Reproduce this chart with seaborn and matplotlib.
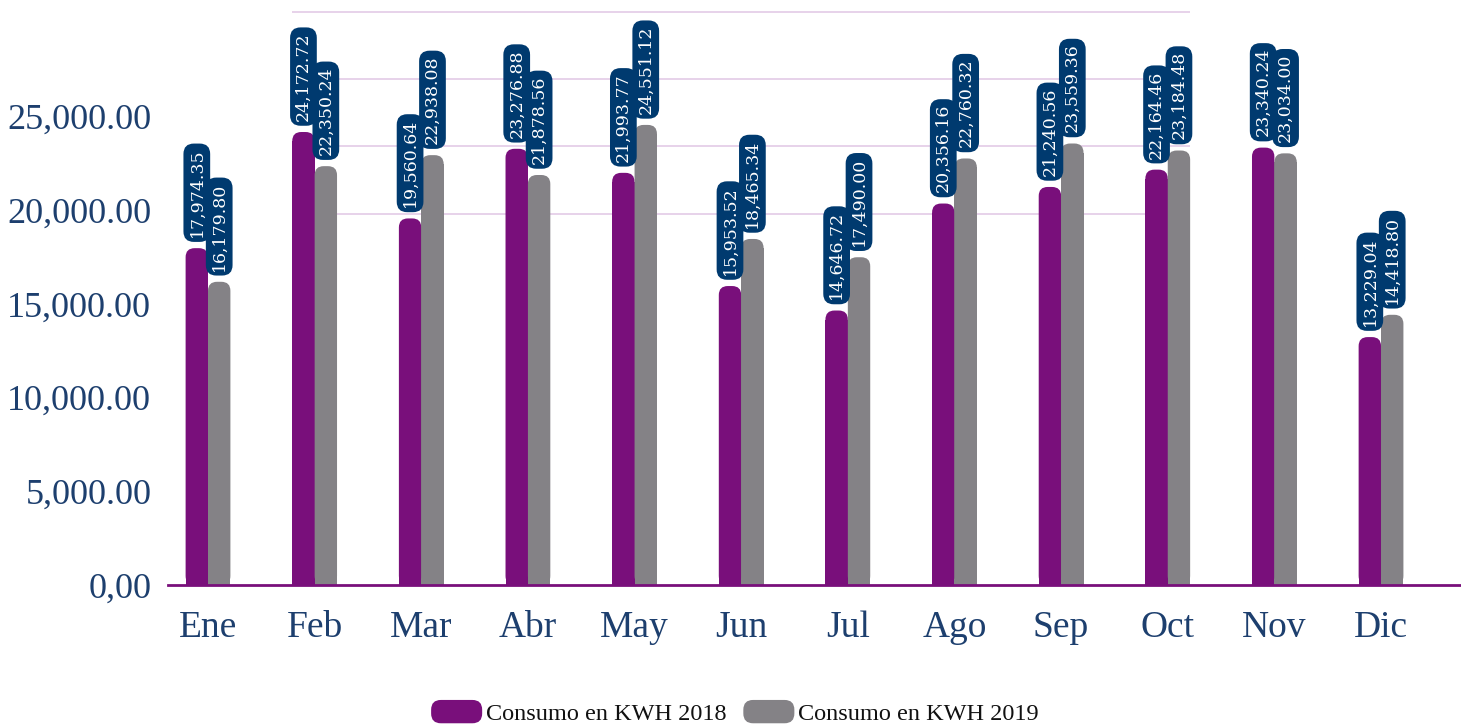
import numpy as np
import pandas as pd
import seaborn as sns
import matplotlib.pyplot as plt
from matplotlib.patches import FancyBboxPatch
from matplotlib.legend_handler import HandlerPatch

# Data
meses = ["Ene", "Feb", "Mar", "Abr", "May", "Jun", "Jul", "Ago", "Sep", "Oct", "Nov", "Dic"]
consumo_2018 = [17974.35, 24172.72, 19560.64, 23276.88, 21993.77, 15953.52,
                14646.72, 20356.16, 21240.56, 22164.46, 23340.24, 13229.04]
consumo_2019 = [16179.80, 22350.24, 22938.08, 21878.56, 24551.12, 18465.34,
                17490.00, 22760.32, 23559.36, 23184.48, 23034.00, 14418.80]
series = ["Consumo en KWH 2018", "Consumo en KWH 2019"]
y_ticks = [0, 5000, 10000, 15000, 20000, 25000]
y_tick_labels = ["0,00", "5,000.00", "10,000.00", "15,000.00", "20,000.00", "25,000.00"]
grid_vals = [19800, 23400, 27000, 30600]

PURPLE = "#790f7b"
GRAY = "#848286"
NAVY = "#003a6f"
TEXT = "#1d3f6e"

df = pd.DataFrame({
    "mes": meses * 2,
    "valor": consumo_2018 + consumo_2019,
    "serie": [series[0]] * 12 + [series[1]] * 12,
})

sns.set_style("white")
plt.rcParams["font.family"] = ["Liberation Serif", "DejaVu Serif"]

fig = plt.figure(figsize=(14.61, 7.25), dpi=100)
ax = fig.add_axes([0.115, 0.1931, 0.885, 0.80])

sns.barplot(data=df, x="mes", y="valor", hue="serie", order=meses,
            palette=[PURPLE, GRAY], width=0.42, gap=0, ax=ax,
            legend=False, saturation=1, edgecolor="none")

ax.set_xlim(-0.375, 11.75)
ax.set_ylim(0, 30950)

# light partial grid lines
ax.hlines(grid_vals, 0.79, 9.21, color="#e3cbe6", lw=1.2, zorder=0)

# px per unit for rounding the bar tops
fig.canvas.draw()
bb = ax.get_window_extent()
x_per_px = (11.75 + 0.375) / bb.width
y_per_px = 30950 / bb.height
radius_px = 9
rx = radius_px * x_per_px
aspect = y_per_px / x_per_px

for p in list(ax.patches):
    x0, w, h = p.get_x(), p.get_width(), p.get_height()
    color = p.get_facecolor()
    p.set_height(h - radius_px * y_per_px)
    rb = FancyBboxPatch((x0, 0), w, h,
                        boxstyle=f"round,pad=0,rounding_size={rx}",
                        mutation_aspect=aspect, fc=color, ec="none", zorder=p.get_zorder())
    ax.add_patch(rb)
    ax.annotate(f"{h:,.2f}", (x0 + w / 2, h), xytext=(0, 8), textcoords="offset points",
                rotation=90, ha="center", va="bottom", fontsize=12.5, color="white",
                family="DejaVu Serif",
                bbox=dict(boxstyle="round,pad=0.28,rounding_size=0.6", fc=NAVY, ec="none"),
                zorder=5)

ax.set_yticks(y_ticks, y_tick_labels)
ax.tick_params(axis="y", labelsize=26, labelcolor=TEXT, length=0, pad=12)
ax.tick_params(axis="x", labelsize=27, labelcolor=TEXT, length=0, pad=18)
ax.set_xlabel("")
ax.set_ylabel("")
for s in ["top", "right", "left"]:
    ax.spines[s].set_visible(False)
ax.spines["bottom"].set_color(PURPLE)
ax.spines["bottom"].set_linewidth(2)


class RoundHandler(HandlerPatch):
    def create_artists(self, legend, orig_handle, xdescent, ydescent, width, height, fontsize, trans):
        p = FancyBboxPatch((-xdescent, -ydescent), width, height,
                           boxstyle="round,pad=0,rounding_size=7",
                           fc=orig_handle.get_facecolor(), ec="none", transform=trans)
        return [p]


handles = [FancyBboxPatch((0, 0), 1, 1, fc=c) for c in [PURPLE, GRAY]]
fig.legend(handles, series, loc="lower center", bbox_to_anchor=(0.503, -0.03), ncol=2,
           frameon=False, fontsize=17.5, handlelength=2.1, handleheight=1.1,
           handletextpad=0.15, columnspacing=0.7, labelcolor="#111111",
           handler_map={FancyBboxPatch: RoundHandler()})

fig.savefig("out.png", dpi=100)
